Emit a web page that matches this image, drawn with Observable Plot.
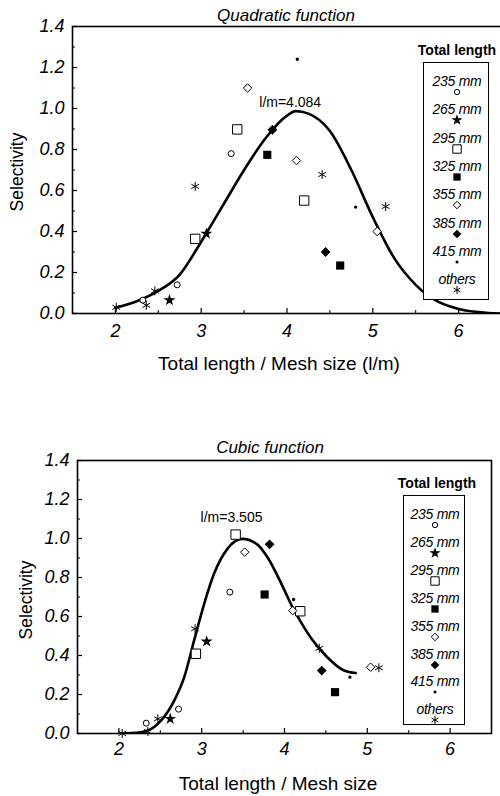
<!DOCTYPE html>
<html><head><meta charset="utf-8">
<script src="https://cdn.jsdelivr.net/npm/d3@7"></script>
<script src="https://cdn.jsdelivr.net/npm/@observablehq/plot@0.6"></script>
<style>
body{margin:0;background:#fff;font-family:"Liberation Sans",Arial,sans-serif;}
#wrap{position:relative;width:500px;height:796px;overflow:hidden;background:#fff;}
.abs{position:absolute;white-space:nowrap;color:#000;line-height:1;}
.c{transform:translate(-50%,-50%);}
svg{position:absolute;left:0;}
</style></head><body><div id="wrap"></div>
<script>
// ---- data ----
const groups = ["235 mm","265 mm","295 mm","325 mm","355 mm","385 mm","415 mm","others"];
const xTicks = [2,3,4,5,6];
const xMinor = [1.5,2.5,3.5,4.5,5.5];
const yTicks = [0,0.2,0.4,0.6,0.8,1.0,1.2,1.4];
const yMinor = [0.1,0.3,0.5,0.7,0.9,1.1,1.3];

// Quadratic function fitted curve
const quadCurveX = [2.0,2.25,2.5,2.75,3.0,3.25,3.5,3.75,4.0,4.1,4.25,4.5,4.75,5.0,5.25,5.5,5.75,6.0,6.25,6.5];
const quadCurveY = [0.028,0.06,0.11,0.19,0.35,0.525,0.70,0.855,0.965,0.987,0.975,0.89,0.70,0.47,0.27,0.14,0.06,0.022,0.006,0.0];
const quadLm = 4.084;
// Quadratic observed points
const quadGroup = ["others","others","others","others","others","others","others",
  "235 mm","235 mm","235 mm","265 mm","265 mm","295 mm","295 mm","295 mm",
  "325 mm","325 mm","355 mm","355 mm","355 mm","385 mm","385 mm","415 mm","415 mm"];
const quadX = [2.01,2.36,2.46,2.93,4.41,5.15,5.99, 2.32,2.72,3.35, 2.63,3.06, 2.93,3.42,4.20, 3.77,4.62, 3.54,4.11,5.05, 3.83,4.45, 4.12,4.80];
const quadY = [0.03,0.04,0.11,0.62,0.678,0.522,0.10, 0.065,0.14,0.78, 0.065,0.389, 0.364,0.898,0.551, 0.774,0.234, 1.10,0.746,0.40, 0.896,0.30, 1.24,0.519];

// Cubic function fitted curve
const cubicCurveX = [2.02,2.2,2.35,2.51,2.67,2.79,2.91,3.03,3.15,3.31,3.49,3.67,3.80,3.96,4.10,4.20,4.32,4.52,4.72,4.86];
const cubicCurveY = [0.0,0.003,0.015,0.067,0.17,0.29,0.48,0.665,0.82,0.947,0.998,0.97,0.90,0.77,0.645,0.57,0.49,0.39,0.323,0.31];
const cubicLm = 3.505;
const cubicGroup = ["others","others","others","others","others","others",
  "235 mm","235 mm","235 mm","265 mm","265 mm","295 mm","295 mm","295 mm",
  "325 mm","325 mm","355 mm","355 mm","355 mm","385 mm","385 mm","415 mm","415 mm"];
const cubicX = [2.04,2.35,2.47,2.92,4.42,5.14, 2.33,2.72,3.34, 2.62,3.06, 2.93,3.41,4.19, 3.76,4.61, 3.52,4.10,5.04, 3.82,4.45, 4.11,4.79];
const cubicY = [0.0,0.01,0.075,0.537,0.437,0.337, 0.053,0.125,0.725, 0.075,0.472, 0.409,1.02,0.627, 0.713,0.212, 0.93,0.63,0.34, 0.97,0.323, 0.687,0.289];

// ---- styles ----
const sty = {
  "235 mm": {symbol:"circle", fill:"white", stroke:"black", r:3, sw:1},
  "265 mm": {symbol:"star", fill:"black", stroke:"black", r:2.6, sw:1.2},
  "295 mm": {symbol:"square", fill:"white", stroke:"black", r:5.3, sw:1},
  "325 mm": {symbol:"square", fill:"black", stroke:"none", r:4.6, sw:0},
  "355 mm": {symbol:"diamond2", fill:"white", stroke:"black", r:3.8, sw:1},
  "385 mm": {symbol:"diamond2", fill:"black", stroke:"none", r:4.4, sw:0},
  "415 mm": {symbol:"circle", fill:"black", stroke:"none", r:1.7, sw:0},
  "others": {symbol:"asterisk", fill:"none", stroke:"black", r:4.2, sw:1}
};
const d3sym = {circle:d3.symbolCircle, star:d3.symbolStar, square:d3.symbolSquare, diamond2:d3.symbolDiamond2, asterisk:d3.symbolAsterisk};

const wrap = document.getElementById("wrap");
function addText(txt, x, y, css) {
  const d = document.createElement("div");
  d.className = "abs c";
  d.textContent = txt;
  d.style.left = x + "px"; d.style.top = y + "px";
  Object.assign(d.style, css || {});
  wrap.appendChild(d);
  return d;
}

function chart(o) {
  const pts = o.gx.map((g,i)=>({g, x:o.px[i], y:o.py[i]}));
  const curve = o.cx.map((x,i)=>({x, y:o.cy[i]}));
  const peak = d3.max(o.cy);
  const marks = [
    Plot.axisX({ticks:xMinor, tickSize:-3, tickFormat:()=>"", label:null, strokeWidth:1}),
    Plot.axisY({ticks:yMinor, tickSize:-3, tickFormat:()=>"", label:null, strokeWidth:1}),
    Plot.axisX({ticks:xTicks, tickSize:-5, tickPadding:o.xpad, tickFormat:d=>String(d), label:null, strokeWidth:1.2, fontSize:18}),
    Plot.axisY({ticks:yTicks, tickSize:-5, tickPadding:13, tickFormat:d3.format(".1f"), label:null, strokeWidth:1.2, fontSize:18}),
    Plot.frame({stroke:"black", strokeWidth:1.6}),
    Plot.line(curve, {x:"x", y:"y", curve:"monotone-x", stroke:"black", strokeWidth:2.6, clip:true}),
  ];
  for (const g of groups) {
    const s = sty[g];
    marks.push(Plot.dot(pts.filter(p=>p.g===g), {x:"x", y:"y", symbol:()=>s.symbol, r:s.r, fill:s.fill, stroke:s.stroke, strokeWidth:s.sw}));
  }
  marks.push(Plot.text([{x:o.lm, y:peak}], {x:"x", y:"y", text:()=>"l/m=" + o.lm.toFixed(3), dx:o.adx, dy:o.ady, fontSize:14, fill:"black"}));
  const svg = Plot.plot({
    width:o.width, height:o.height,
    marginLeft:o.ml, marginRight:o.mr, marginTop:o.mt, marginBottom:o.mb,
    style:{fontFamily:"Liberation Sans, Arial, sans-serif", background:"transparent", overflow:"visible"},
    x:{domain:[1.5,6.5]}, y:{domain:[0,1.4]},
    symbol:{type:"identity"},
    marks
  });
  svg.querySelectorAll('g[aria-label$="tick label"]').forEach(g => {
    g.setAttribute("font-style", "italic");
    g.setAttribute("font-size", "18");
  });
  svg.style.top = o.top + "px";
  wrap.appendChild(svg);
}

function legend(left, top, w, h, titleX, titleY, step) {
  addText("Total length", titleX, titleY, {fontWeight:"bold", fontSize:"14px"});
  const box = document.createElement("div");
  box.className = "abs";
  Object.assign(box.style, {left:left+"px", top:top+"px", width:w+"px", height:h+"px", border:"1px solid black", background:"white", boxSizing:"border-box"});
  wrap.appendChild(box);
  groups.forEach((g,i)=>{
    const cy = 18 + i*step;
    const t = document.createElement("div");
    t.className = "abs c";
    t.textContent = g;
    Object.assign(t.style, {left:(w/2)+"px", top:cy+"px", fontStyle:"italic", fontSize:"14px", letterSpacing:"-0.3px"});
    box.appendChild(t);
    const s = sty[g];
    const ns = "http://www.w3.org/2000/svg";
    const sv = document.createElementNS(ns, "svg");
    sv.setAttribute("width", 14); sv.setAttribute("height", 14);
    sv.style.position = "absolute";
    sv.style.left = (w/2 - 7) + "px"; sv.style.top = (cy + 11 - 7) + "px";
    const p = document.createElementNS(ns, "path");
    const sz = Math.PI * s.r * s.r * 0.8;
    p.setAttribute("d", d3.symbol(d3sym[s.symbol], sz)());
    p.setAttribute("transform", "translate(7,7)");
    p.setAttribute("fill", s.fill); p.setAttribute("stroke", s.stroke); p.setAttribute("stroke-width", s.sw);
    sv.appendChild(p);
    box.appendChild(sv);
  });
}

// Top chart
addText("Quadratic function", 286, 15, {fontStyle:"italic", fontSize:"17px"});
chart({gx:quadGroup, px:quadX, py:quadY, cx:quadCurveX, cy:quadCurveY, lm:quadLm,
  width:500, height:400, ml:72, mr:-1, mt:26, mb:87, top:0, xpad:16, adx:-4, ady:-9});
addText("Selectivity", 18, 172, {fontSize:"17.5px", transform:"translate(-50%,-50%) rotate(-90deg)"});
addText("Total length / Mesh size (l/m)", 279, 363, {fontSize:"19px"});
legend(423, 62, 66, 238, 457, 50, 28.3);

// Bottom chart
addText("Cubic function", 270, 447, {fontStyle:"italic", fontSize:"17px"});
chart({gx:cubicGroup, px:cubicX, py:cubicY, cx:cubicCurveX, cy:cubicCurveY, lm:cubicLm,
  width:500, height:343, ml:77, mr:9, mt:20, mb:50, top:440, xpad:14, adx:-12, ady:-21});
addText("Selectivity", 27, 600, {fontSize:"17.5px", transform:"translate(-50%,-50%) rotate(-90deg)"});
addText("Total length / Mesh size", 278, 783, {fontSize:"19px"});
legend(403, 495, 62, 230, 437, 483, 27.9);
</script></body></html>
